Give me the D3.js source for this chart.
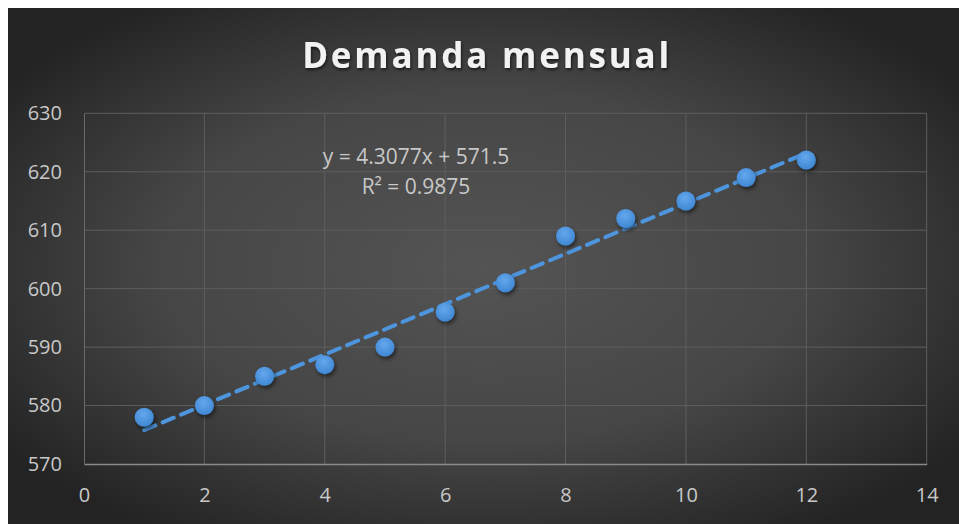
<!DOCTYPE html>
<html>
<head>
<meta charset="utf-8">
<script src="https://cdn.jsdelivr.net/npm/d3@7"></script>
<style>
  html, body { margin: 0; padding: 0; background: #ffffff; }
  svg { display: block; }
  text { font-family: "Open Sans", "Noto Sans", sans-serif; }
</style>
</head>
<body>
<svg id="chart" width="959" height="524"></svg>
<script>
// Monthly demand
const months = [1, 2, 3, 4, 5, 6, 7, 8, 9, 10, 11, 12];
const demand = [578, 580, 585, 587, 590, 596, 601, 609, 612, 615, 619, 622];
const xTicks = [0, 2, 4, 6, 8, 10, 12, 14];
const yTicks = [570, 580, 590, 600, 610, 620, 630];
const titleText = "Demanda mensual";

const svg = d3.select("#chart");
const W = 959, H = 524;

// Least-squares trend line
const mx = d3.mean(months), my = d3.mean(demand);
const sxy = d3.sum(months, (x, i) => (x - mx) * (demand[i] - my));
const sxx = d3.sum(months, x => (x - mx) ** 2);
const slope = sxy / sxx;
const intercept = my - slope * mx;
const ssTot = d3.sum(demand, y => (y - my) ** 2);
const ssRes = d3.sum(months, (x, i) => (demand[i] - (intercept + slope * x)) ** 2);
const r2 = 1 - ssRes / ssTot;

const defs = svg.append("defs");
const bg = defs.append("radialGradient").attr("id", "bg")
  .attr("cx", "50%").attr("cy", "50%").attr("r", "62%");
bg.append("stop").attr("offset", "0%").attr("stop-color", "#545454");
bg.append("stop").attr("offset", "55%").attr("stop-color", "#464646");
bg.append("stop").attr("offset", "100%").attr("stop-color", "#232323");

const dot = defs.append("radialGradient").attr("id", "dot")
  .attr("cx", "45%").attr("cy", "35%").attr("r", "65%");
dot.append("stop").attr("offset", "0%").attr("stop-color", "#64a7ec");
dot.append("stop").attr("offset", "100%").attr("stop-color", "#3f87d4");

const shadow = defs.append("filter").attr("id", "shadow")
  .attr("x", "-50%").attr("y", "-50%").attr("width", "200%").attr("height", "200%");
shadow.append("feDropShadow").attr("dx", 1.5).attr("dy", 2.5)
  .attr("stdDeviation", 2).attr("flood-color", "#000").attr("flood-opacity", 0.55);

const tshadow = defs.append("filter").attr("id", "tshadow")
  .attr("x", "-10%").attr("y", "-30%").attr("width", "120%").attr("height", "160%");
tshadow.append("feDropShadow").attr("dx", 1).attr("dy", 2)
  .attr("stdDeviation", 1.5).attr("flood-color", "#000").attr("flood-opacity", 0.6);

// Chart background
svg.append("rect").attr("x", 8).attr("y", 8).attr("width", W - 8).attr("height", H - 8)
  .attr("fill", "url(#bg)");

const x = d3.scaleLinear().domain([0, 14]).range([84, 926.7]);
const y = d3.scaleLinear().domain([570, 630]).range([464, 113.3]);

// Gridlines
const grid = svg.append("g");
grid.selectAll("line.h").data(yTicks.slice(1)).join("line")
  .attr("x1", x(0)).attr("x2", x(14))
  .attr("y1", d => y(d)).attr("y2", d => y(d))
  .attr("stroke", "#5e5e5e").attr("stroke-width", 1);
grid.selectAll("line.v").data(xTicks.slice(1)).join("line")
  .attr("x1", d => x(d)).attr("x2", d => x(d))
  .attr("y1", y(630)).attr("y2", y(570))
  .attr("stroke", "#5e5e5e").attr("stroke-width", 1);

// Axes
const xAxis = svg.append("g").attr("transform", `translate(0,${y(570)})`)
  .call(d3.axisBottom(x).tickValues(xTicks).tickSize(0).tickPadding(24));
xAxis.select(".domain").attr("stroke", "#8a8a8a").attr("stroke-width", 1.5);
xAxis.selectAll("text").attr("fill", "#c8c8c8").attr("font-size", 20)
  .style("font-family", "'Open Sans', sans-serif");

const yAxis = svg.append("g").attr("transform", `translate(${x(0)},0)`)
  .call(d3.axisLeft(y).tickValues(yTicks).tickSize(0).tickPadding(22));
yAxis.select(".domain").attr("stroke", "#6a6a6a").attr("stroke-width", 1);
yAxis.selectAll("text").attr("fill", "#c8c8c8").attr("font-size", 20)
  .style("font-family", "'Open Sans', sans-serif");

// Trend line
const line = d3.line().x(d => x(d)).y(d => y(intercept + slope * d));
svg.append("path").datum([d3.min(months), d3.max(months)])
  .attr("d", line).attr("fill", "none")
  .attr("stroke", "#4d95dd").attr("stroke-width", 4)
  .attr("stroke-dasharray", "12,8").attr("stroke-linecap", "round");

// Points
svg.append("g").selectAll("circle").data(months).join("circle")
  .attr("cx", d => x(d)).attr("cy", (d, i) => y(demand[i]))
  .attr("r", 9.5).attr("fill", "url(#dot)").attr("filter", "url(#shadow)");

// Trend equation
const eq = svg.append("text").attr("text-anchor", "middle")
  .attr("fill", "#c8c8c8").attr("font-size", 21);
eq.append("tspan").attr("x", 416).attr("y", 164)
  .text(`y = ${slope.toFixed(4)}x + ${intercept.toFixed(1)}`);
eq.append("tspan").attr("x", 416).attr("y", 194)
  .text(`R² = ${r2.toFixed(4)}`);

// Title
svg.append("text").attr("x", 487).attr("y", 68).attr("text-anchor", "middle")
  .attr("fill", "#f2f2f2").attr("font-size", 35).attr("font-weight", 700)
  .attr("letter-spacing", 2.8).attr("filter", "url(#tshadow)")
  .text(titleText);
</script>
</body>
</html>
